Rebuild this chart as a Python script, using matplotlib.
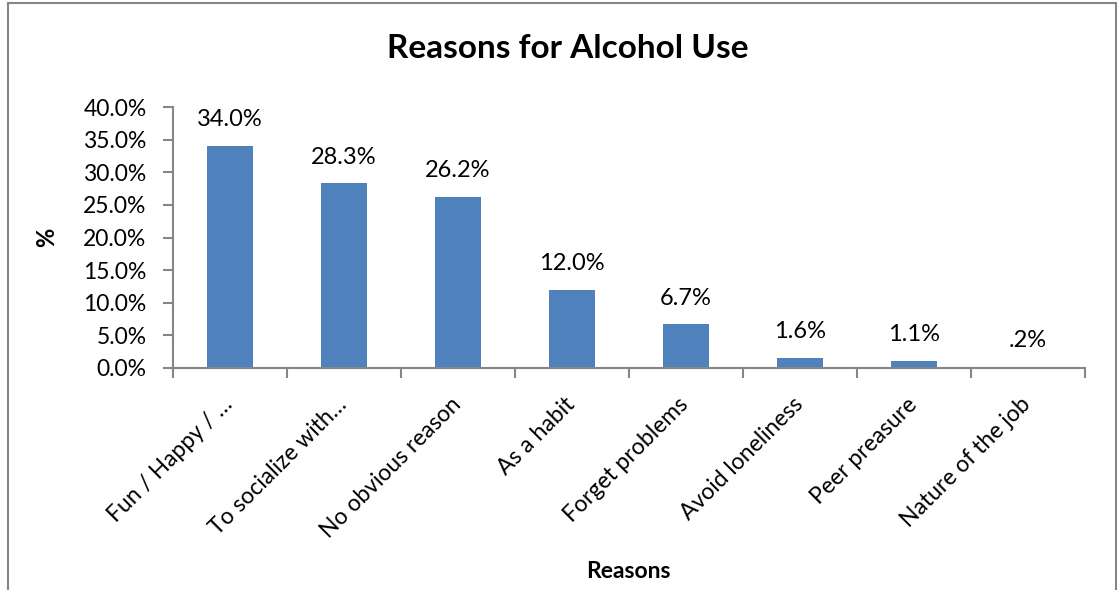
import matplotlib.pyplot as plt
import matplotlib.patches as patches
import matplotlib.transforms as mtransforms
import numpy as np

plt.rcParams['font.family'] = ['Lato', 'DejaVu Sans']

reasons = ['Fun / Happy / …', 'To socialize with…', 'No obvious reason', 'As a habit',
           'Forget problems', 'Avoid loneliness', 'Peer preasure', 'Nature of the job']
percent = [34.0, 28.3, 26.2, 12.0, 6.7, 1.6, 1.1, 0.2]
value_labels = ['34.0%', '28.3%', '26.2%', '12.0%', '6.7%', '1.6%', '1.1%', '.2%']
y_ticks = [0, 5, 10, 15, 20, 25, 30, 35, 40]

fig = plt.figure(figsize=(11.19, 5.90), dpi=100)
ax = fig.add_axes([173 / 1119, 1 - 368 / 590, 912 / 1119, 261 / 590])

x = np.arange(len(reasons))
bars = ax.bar(x, percent, width=0.4, color='#4F81BD')

for bar, lab in zip(bars, value_labels):
    ax.text(bar.get_x() + bar.get_width() / 2, bar.get_height() + 2.4, lab,
            ha='center', va='bottom', fontsize=17)

ax.set_xlim(-0.5, len(reasons) - 0.5)
ax.set_ylim(0, 40)
ax.set_yticks(y_ticks)
ax.set_yticklabels([f'{v:.1f}%' for v in y_ticks], fontsize=16.5)
ax.set_xticks(x)
ax.set_xticklabels(reasons, rotation=45, ha='right', rotation_mode='anchor', fontsize=16.5)
ax.set_xticks(np.arange(-0.5, len(reasons)), minor=True)
ax.tick_params(axis='x', which='major', length=0, pad=18.5)
ax.tick_params(axis='x', which='minor', length=7, color='#868686', width=1.5)
ax.tick_params(axis='y', length=7, color='#868686', width=1.5, pad=12)

shift = mtransforms.ScaledTranslation(-8 / 100, 0, fig.dpi_scale_trans)
for lbl in ax.get_xticklabels():
    lbl.set_transform(lbl.get_transform() + shift)

for side in ['top', 'right']:
    ax.spines[side].set_visible(False)
for side in ['left', 'bottom']:
    ax.spines[side].set_color('#868686')
    ax.spines[side].set_linewidth(1.5)

ax.set_ylabel('%', fontsize=17, fontweight='bold', labelpad=18)
fig.text(628 / 1119, 1 - 572 / 590, 'Reasons', ha='center', va='center',
         fontsize=16.5, fontweight='bold')
fig.text(568 / 1119, 1 - 48 / 590, 'Reasons for Alcohol Use', ha='center', va='center',
         fontsize=24, fontweight='bold')

border = patches.Rectangle((8 / 1119, -0.1), 1108 / 1119, 1.1 - 3 / 590,
                           transform=fig.transFigure, fill=False,
                           edgecolor='#868686', linewidth=1.5, clip_on=False)
fig.add_artist(border)

fig.savefig('out.png', dpi=100)
